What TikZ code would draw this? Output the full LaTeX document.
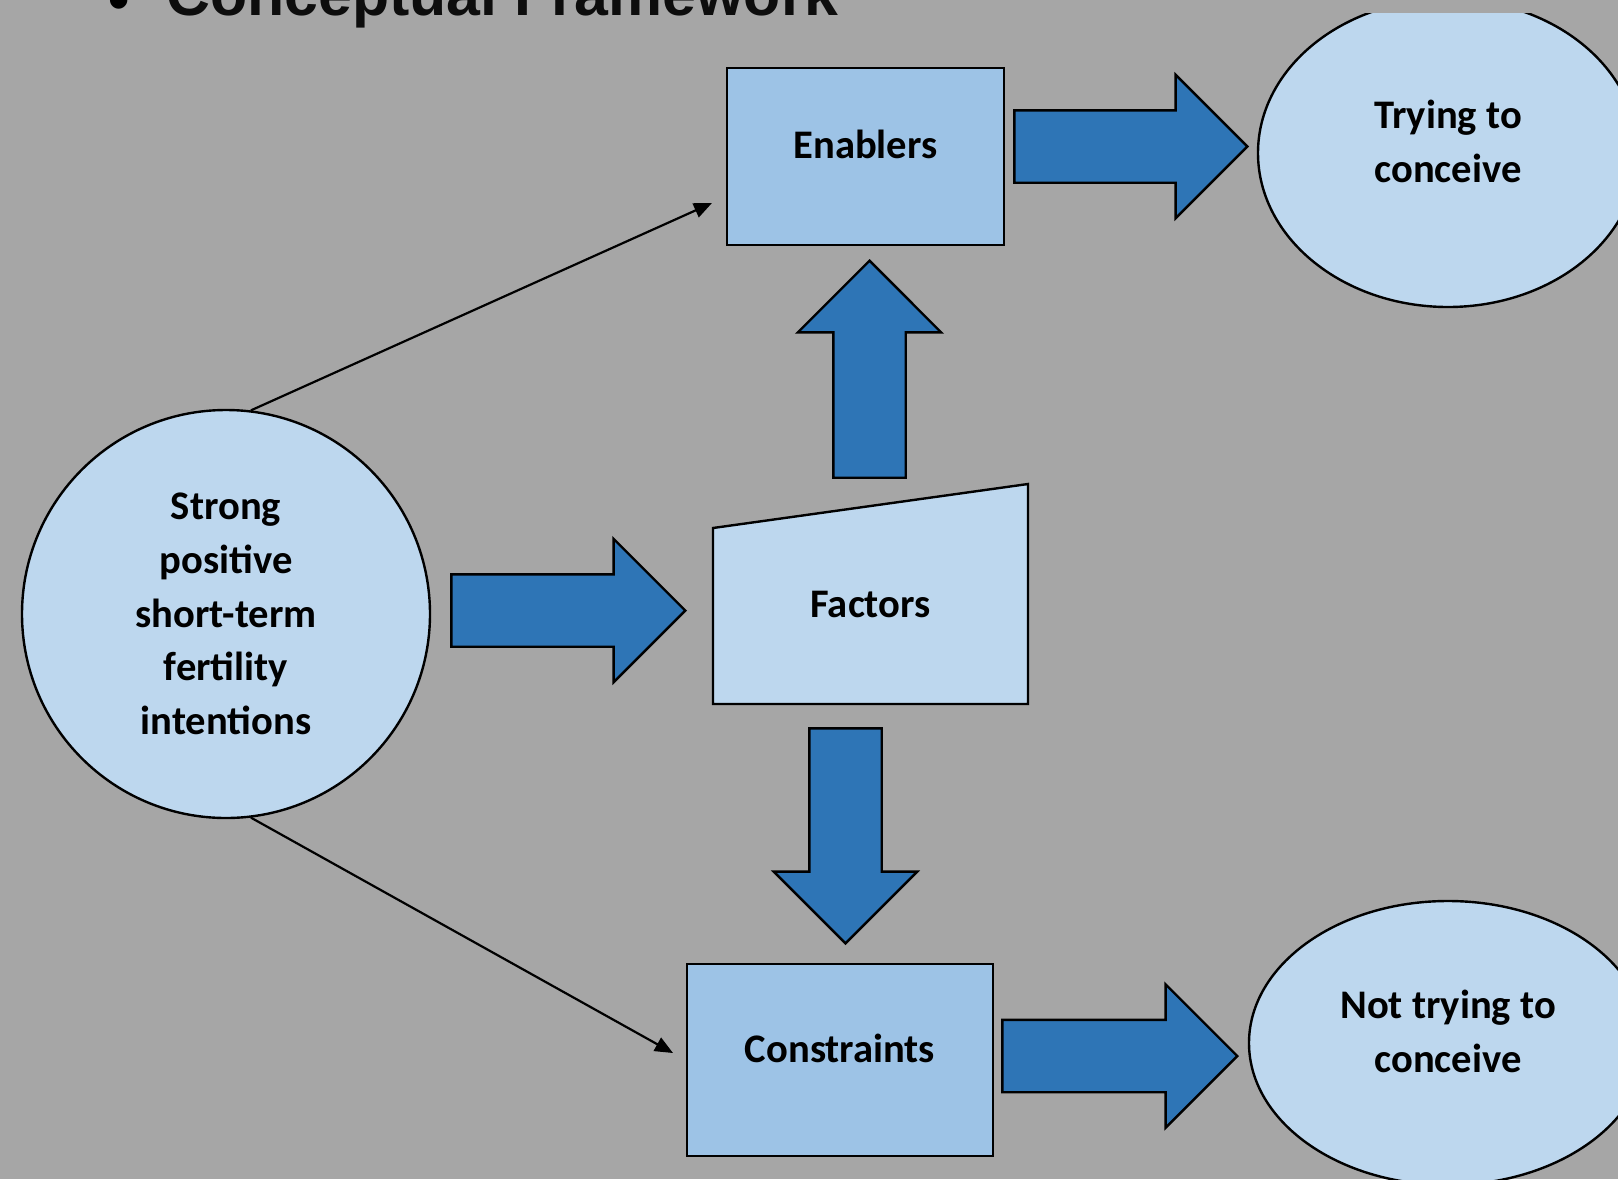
\documentclass[tikz,border=0pt]{standalone}
\usepackage{fontspec}
\setmainfont{Carlito}
\newfontfamily\titlefont{Liberation Sans}
\usetikzlibrary{shapes.geometric,shapes.arrows,arrows.meta}
\definecolor{slidegray}{HTML}{A6A6A6}
\definecolor{boxblue}{HTML}{9DC3E6}
\definecolor{paleblue}{HTML}{BDD7EE}
\definecolor{arrowblue}{HTML}{2E75B6}
\begin{document}
\begin{tikzpicture}
  [x=0.5pt,y=-0.5pt,
   every node/.style={font=\fontsize{20.3}{26.9}\selectfont\bfseries,align=center,line width=1.2pt}]
  \tikzstyle{box} = [draw,fill=boxblue,rectangle,text depth=12pt]
  \tikzstyle{oval} = [draw,fill=paleblue,ellipse,text depth=12pt]
  \tikzstyle{fat} = [draw,fill=arrowblue,single arrow,inner xsep=0pt,inner ysep=17.5pt,
    single arrow head extend=17.75pt,single arrow tip angle=90,anchor=tip]
  \tikzstyle{fatv} = [fat,inner xsep=17.5pt,inner ysep=0pt]
  \tikzstyle{link} = [line width=1.1pt,-{Triangle[length=9pt,width=7.5pt]}]
  \fill[slidegray] (0,0) rectangle (1618,1179);
  \useasboundingbox (0,0) rectangle (1618,1179);
  % slide title, cut off at the top
  \node[font=\titlefont\fontsize{30.4}{36}\selectfont\bfseries,inner sep=0pt,anchor=base] (bullet) at (119,20) {•};
  \node[font=\titlefont\fontsize{30.4}{36}\selectfont\bfseries,inner sep=0pt,anchor=base west,text=black!95] (title) at (165,15) {Conceptual Framework};
  % intentions
  \node[draw,circle,fill=paleblue,minimum size=204pt] (intent) at (226,614)
    {Strong\\positive\\short-term\\fertility\\intentions};
  % factors
  \filldraw[fill=paleblue,line width=1.2pt] (713,704) -- (1028,704) -- (1028,484) -- (713,528) -- cycle;
  \node (fac) at (870.5,604) {Factors};
  \node[box,minimum width=138.5pt,minimum height=88.5pt] (enab) at (865.5,156.5) {Enablers};
  \node[box,minimum width=153pt,minimum height=96pt] (cons) at (840,1060) {Constraints};
  % outcomes
  \begin{scope}
    \clip (0,13) rectangle (1618,1179);
    \node[oval,minimum width=190pt,minimum height=154pt] (try) at (1448,153) {Trying to\\conceive};
  \end{scope}
  \node[oval,minimum width=199pt,minimum height=142pt] (nottry) at (1448,1043) {Not trying to\\conceive};
  % block arrows
  \node[fat,minimum height=116.5pt] (a-en) at (1249,146.5) {};
  \node[fat,minimum height=117pt] (a-fac) at (687,610.5) {};
  \node[fatv,minimum height=108.5pt,shape border rotate=90] (a-up) at (869.5,259) {};
  \node[fatv,minimum height=107.5pt,shape border rotate=270] (a-down) at (845.5,945) {};
  \node[fat,minimum height=117.5pt] (a-con) at (1239,1056) {};
  % thin links
  \coordinate (en-in) at (712,203);
  \coordinate (con-in) at (673,1053);
  \draw[link] (intent.83) -- (en-in);
  \draw[link] (intent.-83) -- (con-in);
\end{tikzpicture}
\end{document}
